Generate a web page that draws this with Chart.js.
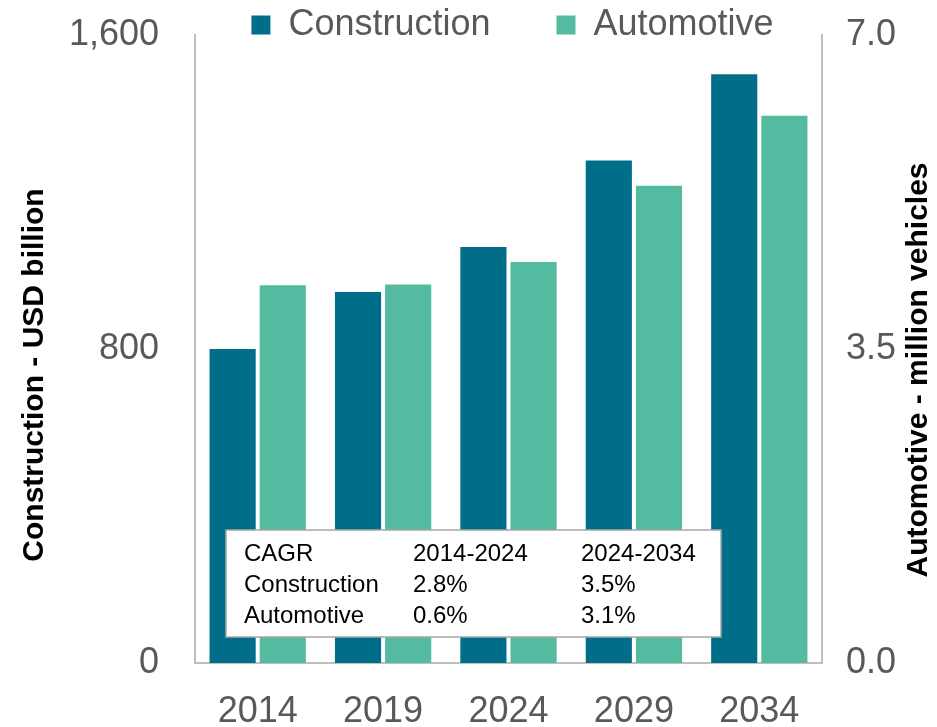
<!DOCTYPE html>
<html>
<head>
<meta charset="utf-8">
<script src="https://cdn.jsdelivr.net/npm/chart.js@4.4.1/dist/chart.umd.min.js"></script>
<style>
  html, body { margin: 0; padding: 0; background: #fff; }
  #wrap { width: 937px; height: 727px; }
</style>
</head>
<body>
<div id="wrap"><canvas id="chart" width="937" height="727"></canvas></div>
<script>
// ---- Données ----
const annees = ['2014', '2019', '2024', '2029', '2034']
const construction = [800, 945, 1060, 1280, 1500]
const automobile = [4.21, 4.22, 4.47, 5.32, 6.10]

const ticksGauche = [0, 800, 1600]
const ticksDroite = [0, 3.5, 7]

const titreGauche = 'Construction - USD billion'
const titreDroite = 'Automotive - million vehicles'

// tableau CAGR
const cagrLignes = [
  ['CAGR', '2014-2024', '2024-2034'],
  ['Construction', '2.8%', '3.5%'],
  ['Automotive', '0.6%', '3.1%']
]

const POLICE = "Arial, 'Liberation Sans', sans-serif"
const GRIS = '#595959'
const AXE = '#BFBFBF'

// ---- Encadré CAGR ----
const encadreCagr = {
  id: 'encadreCagr',
  afterDatasetsDraw(chart) {
    const { ctx, chartArea } = chart
    const x = chartArea.left + 31
    const y = 530
    const w = 495
    const h = 107
    ctx.save()
    ctx.fillStyle = '#fff'
    ctx.fillRect(x, y, w, h)
    ctx.strokeStyle = '#A6A6A6'
    ctx.lineWidth = 1.5
    ctx.strokeRect(x, y, w, h)
    ctx.fillStyle = '#000'
    ctx.font = '24px ' + POLICE
    ctx.textBaseline = 'middle'
    const cols = [18, 187, 355]
    cagrLignes.forEach((ligne, i) => {
      ligne.forEach((txt, j) => {
        ctx.fillText(txt, x + cols[j], y + 24 + i * 31)
      })
    })
    ctx.restore()
  }
}

// ---- Titres des axes (verticaux) ----
const titresAxes = {
  id: 'titresAxes',
  afterDraw(chart) {
    const { ctx } = chart
    ctx.save()
    ctx.fillStyle = '#000'
    ctx.font = 'bold 30px ' + POLICE
    ctx.textAlign = 'center'
    ctx.textBaseline = 'middle'

    ctx.save()
    ctx.translate(35, 375)
    ctx.rotate(-Math.PI / 2)
    ctx.fillText(titreGauche, 0, 0)
    ctx.restore()

    ctx.save()
    ctx.translate(919, 370)
    ctx.rotate(-Math.PI / 2)
    ctx.fillText(titreDroite, 0, 0)
    ctx.restore()

    ctx.restore()
  }
}

// légende : hauteur fixe puis recentrage sur la zone du graphe
const legendeCentree = {
  id: 'legendeCentree',
  beforeInit(chart) {
    const fitOrig = chart.legend.fit
    chart.legend.fit = function () {
      fitOrig.bind(chart.legend)()
      this.height = 35
    }
  },
  afterLayout(chart) {
    const lg = chart.legend
    const ca = chart.chartArea
    const dx = (ca.left + ca.right) / 2 - (lg.left + lg.right) / 2 + 4
    lg.left += dx
    lg.right += dx
    const pad = lg.options.labels.padding
    // le texte est dessiné à top + padding + demi-hauteur
    lg.top = 25 - pad - 18
    lg.bottom = 60
  }
}

const sansMarge = s => { s.paddingTop = 0; s.paddingBottom = 0 }

new Chart(document.getElementById('chart'), {
  type: 'bar',
  data: {
    labels: annees,
    datasets: [
      {
        label: 'Construction',
        data: construction,
        backgroundColor: '#006E89',
        yAxisID: 'y',
        categoryPercentage: 0.8,
        barPercentage: 0.92
      },
      {
        label: 'Automotive',
        data: automobile,
        backgroundColor: '#55BBA0',
        yAxisID: 'y1',
        categoryPercentage: 0.8,
        barPercentage: 0.92
      }
    ]
  },
  options: {
    responsive: false,
    animation: false,
    layout: { padding: 0 },
    plugins: {
      tooltip: { enabled: false },
      legend: {
        position: 'top',
        labels: {
          boxWidth: 19,
          boxHeight: 19,
          padding: 66,
          color: GRIS,
          font: { family: POLICE, size: 36 }
        }
      }
    },
    scales: {
      x: {
        grid: { display: false },
        border: { display: true, color: AXE, width: 2 },
        ticks: { color: GRIS, font: { family: POLICE, size: 36 }, padding: 19 },
        afterFit(s) { s.height = 64 }
      },
      y: {
        position: 'left',
        min: 0,
        max: 1600,
        afterBuildTicks(s) { s.ticks = ticksGauche.map(v => ({ value: v })) },
        grid: { display: false },
        border: { display: true, color: AXE, width: 2 },
        ticks: { color: GRIS, font: { family: POLICE, size: 36 }, padding: 28 },
        afterFit(s) { s.width = 195; sansMarge(s) }
      },
      y1: {
        position: 'right',
        min: 0,
        max: 7,
        afterBuildTicks(s) { s.ticks = ticksDroite.map(v => ({ value: v })) },
        grid: { display: false },
        border: { display: true, color: AXE, width: 2 },
        ticks: {
          color: GRIS,
          font: { family: POLICE, size: 36 },
          padding: 16,
          callback: v => Number(v).toFixed(1)
        },
        afterFit(s) { s.width = 115; sansMarge(s) }
      }
    }
  },
  plugins: [legendeCentree, titresAxes, encadreCagr]
})
</script>
</body>
</html>
